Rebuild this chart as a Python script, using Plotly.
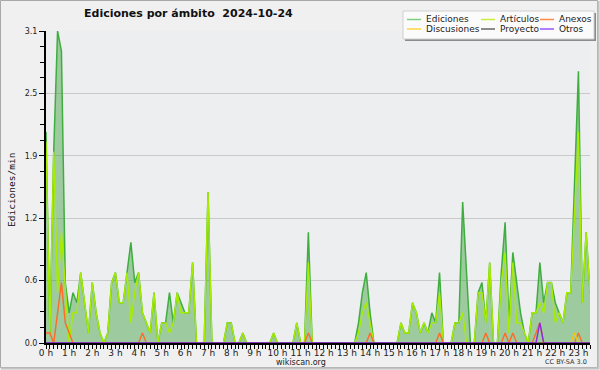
import plotly.graph_objects as go

hours = list(range(24))
tick_labels = [f"{h} h" for h in hours]
y_tick_vals = [0, 0.62, 1.24, 1.86, 2.48, 3.1]
y_tick_labels = ["0.0", "0.6", "1.2", "1.9", "2.5", "3.1"]

# 10-minute steps from 0h00 to 23h30 (142 points), edits per minute
ediciones = [2.1, 0.1, 1.9, 3.1, 2.9, 0.6, 0.3, 0.5, 0.4, 0.7,
             0.4, 0.1, 0.6, 0.3, 0.1, 0, 0.1, 0.6, 0.7, 0.4,
             0.4, 0.7, 1.0, 0.6, 0.7, 0.3, 0.2, 0.1, 0.5, 0,
             0.2, 0.2, 0.5, 0.2, 0.5, 0.4, 0.3, 0.3, 0.8, 0,
             0, 0, 1.5, 0, 0, 0, 0, 0.2, 0.2, 0,
             0, 0.1, 0, 0, 0, 0, 0, 0, 0, 0.1,
             0, 0, 0, 0, 0, 0.2, 0, 0, 1.1, 0,
             0, 0, 0, 0, 0, 0, 0, 0, 0, 0,
             0, 0.2, 0.5, 0.7, 0.3, 0, 0, 0, 0, 0,
             0, 0, 0.2, 0.1, 0.1, 0.4, 0.3, 0.1, 0.2, 0.1,
             0.3, 0.2, 0.7, 0, 0, 0, 0.2, 0.2, 1.4, 0.7,
             0, 0, 0.5, 0.6, 0.2, 0.8, 0, 0, 0.7, 1.2,
             0.2, 0.9, 0.6, 0.3, 0.1, 0, 0.3, 0.3, 0.8, 0.4,
             0.6, 0.6, 0.4, 0.3, 0.2, 0.5, 0.5, 1.6, 2.7, 0.4,
             1.1, 0.5]
articulos = [2.0, 0.1, 1.9, 0.5, 1.1, 0.5, 0, 0.3, 0.3, 0.7,
             0.4, 0.1, 0.6, 0.3, 0.1, 0, 0.1, 0.6, 0.7, 0.4,
             0.4, 0.7, 0.2, 0.5, 0.7, 0.3, 0.2, 0.1, 0.5, 0,
             0.2, 0.2, 0.1, 0.2, 0.5, 0.3, 0.3, 0.3, 0.8, 0,
             0, 0, 1.5, 0, 0, 0, 0, 0.2, 0.2, 0,
             0, 0.1, 0, 0, 0, 0, 0, 0, 0, 0.1,
             0, 0, 0, 0, 0, 0.2, 0, 0, 0.8, 0,
             0, 0, 0, 0, 0, 0, 0, 0, 0, 0,
             0, 0.1, 0.3, 0.4, 0.2, 0, 0, 0, 0, 0,
             0, 0, 0.2, 0.1, 0.1, 0.4, 0.3, 0.1, 0.2, 0.1,
             0.2, 0.2, 0.5, 0, 0, 0, 0.2, 0.2, 0.3, 0,
             0, 0, 0.5, 0.5, 0.2, 0.8, 0, 0, 0.6, 0.9,
             0.1, 0.8, 0.2, 0.2, 0.1, 0, 0.3, 0.3, 0.4, 0.3,
             0.6, 0.6, 0.2, 0.3, 0.2, 0.5, 0.5, 1.3, 2.1, 0.4,
             1.1, 0.5]
anexos = [0.0] * 142
for i, v in [(0, 0.1), (1, 0.1), (3, 0.3), (4, 0.6), (5, 0.2), (6, 0.1),
             (25, 0.1), (68, 0.1), (84, 0.1), (102, 0.1), (114, 0.1),
             (119, 0.1), (121, 0.1), (127, 0.1), (128, 0.2), (138, 0.1)]:
    anexos[i] = v
discusiones = [0.0] * 142
discusiones[137] = 0.1
proyecto = [0.0] * 142
otros = [0.0] * 142
otros[128] = 0.2

x = list(range(len(ediciones)))

L, R, T, B = 46, 590, 31, 343
W, H = R - L, B - T


def px(X):
    return (X - L) / W


def py(Y):
    return (B - Y) / H


fig = go.Figure()
fig.add_trace(go.Scatter(x=x, y=ediciones, mode="lines", fill="tozeroy",
                         fillcolor="rgba(60,160,60,0.45)",
                         line=dict(color="#3fae3f", width=1.5)))
series = [(articulos, "#a8ec00"), (anexos, "#ff6a26"), (discusiones, "#ffc400"),
          (proyecto, "#555555"), (otros, "#8a2be2")]
for ys, c in series:
    fig.add_trace(go.Scatter(x=x, y=ys, mode="lines", line=dict(color=c, width=1.4)))

shapes = []
annotations = []
# chart frame
shapes.append(dict(type="rect", xref="paper", yref="paper",
                   x0=px(0.5), x1=px(597.5), y0=py(0.5), y1=py(367.5),
                   line=dict(color="#a8a8a8", width=1), layer="below"))
shapes.append(dict(type="line", xref="paper", yref="paper",
                   x0=px(1), x1=px(599), y0=py(368.5), y1=py(368.5),
                   line=dict(color="#c4c4c4", width=2)))
shapes.append(dict(type="line", xref="paper", yref="paper",
                   x0=px(598.5), x1=px(598.5), y0=py(1), y1=py(369),
                   line=dict(color="#c4c4c4", width=2)))
# legend box
shapes.append(dict(type="rect", xref="paper", yref="paper",
                   x0=px(405), x1=px(596), y0=py(13), y1=py(41),
                   fillcolor="#8c8c8c", line=dict(width=0)))
shapes.append(dict(type="rect", xref="paper", yref="paper",
                   x0=px(403), x1=px(594), y0=py(11), y1=py(39),
                   fillcolor="#fbfbfb", line=dict(color="#d0d0d0", width=1)))
legend_items = [("Ediciones", "#7ed07e", 407, 19.5), ("Artículos", "#c6ee3a", 481, 19.5),
                ("Anexos", "#ff8a4a", 540, 19.5), ("Discusiones", "#ffd640", 407, 29),
                ("Proyecto", "#666666", 481, 29), ("Otros", "#9a55ff", 540, 29)]
for name, c, x0, y0 in legend_items:
    shapes.append(dict(type="line", xref="paper", yref="paper",
                       x0=px(x0), x1=px(x0 + 14), y0=py(y0), y1=py(y0),
                       line=dict(color=c, width=1.5)))
    annotations.append(dict(x=px(x0 + 17), y=py(y0), xref="paper", yref="paper",
                            text=name, showarrow=False, xanchor="left", yanchor="middle",
                            font=dict(family="DejaVu Sans", size=9, color="#222")))

annotations.append(dict(x=px(188), y=py(14), xref="paper", yref="paper",
                        text="<b>Ediciones por ámbito  2024-10-24</b>", showarrow=False,
                        xanchor="center", yanchor="middle",
                        font=dict(family="DejaVu Sans", size=11, color="#111")))
annotations.append(dict(x=px(11), y=py(190), xref="paper", yref="paper",
                        text="Ediciones/min", textangle=-90, showarrow=False,
                        xanchor="center", yanchor="middle",
                        font=dict(family="DejaVu Sans Mono", size=9.5, color="#111")))
annotations.append(dict(x=px(301), y=py(362), xref="paper", yref="paper",
                        text="wikiscan.org", showarrow=False,
                        xanchor="center", yanchor="middle",
                        font=dict(family="DejaVu Sans", size=8, color="#222")))
annotations.append(dict(x=px(589), y=py(362), xref="paper", yref="paper",
                        text="CC BY-SA 3.0", showarrow=False,
                        xanchor="right", yanchor="middle",
                        font=dict(family="DejaVu Sans", size=6.5, color="#333")))

fig.update_layout(
    width=600, height=370,
    margin=dict(l=L, r=600 - R, t=T, b=370 - B),
    paper_bgcolor="#f0f0f0", plot_bgcolor="#edeef0",
    showlegend=False, shapes=shapes, annotations=annotations,
    xaxis=dict(range=[0, 141], tickvals=[6 * h for h in hours], ticktext=tick_labels,
               showgrid=False, zeroline=False, showline=True, linecolor="black", linewidth=2,
               ticks="outside", ticklen=4, tickcolor="black", tickwidth=1,
               tickfont=dict(family="DejaVu Sans", size=9, color="#222"),
               ticklabelstandoff=-4, automargin=False,
               minor=dict(dtick=1, tick0=0, ticks="outside", ticklen=4, tickcolor="black",
                          showgrid=False),
               fixedrange=True),
    yaxis=dict(range=[0, 3.1], tickvals=y_tick_vals, ticktext=y_tick_labels,
               showgrid=True, gridcolor="#c9c9c9", gridwidth=1, zeroline=False,
               showline=True, linecolor="black", linewidth=2,
               ticks="outside", ticklen=5, tickcolor="black", tickwidth=1,
               tickfont=dict(family="DejaVu Sans", size=8, color="#222"),
               automargin=False,
               minor=dict(dtick=0.155, tick0=0, ticks="outside", ticklen=4,
                          tickcolor="black", showgrid=False),
               fixedrange=True),
)

fig.write_html("out.html", config={"displayModeBar": False},
               post_script="document.body.style.margin='0';document.body.style.overflow='hidden';")
